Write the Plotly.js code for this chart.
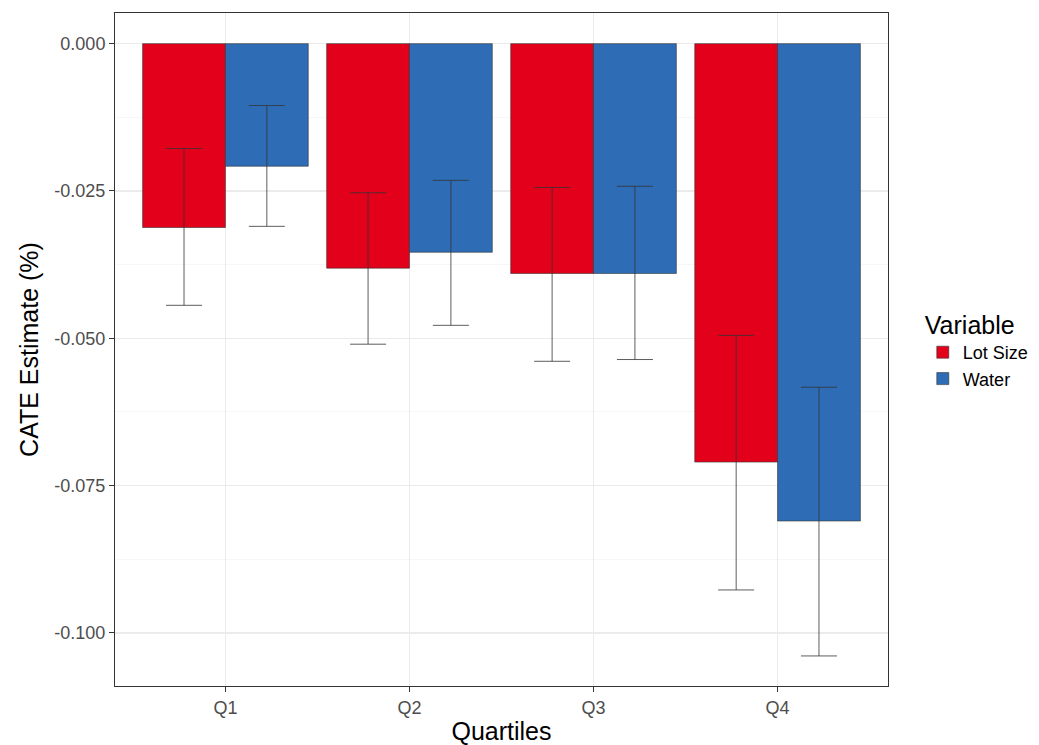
<!DOCTYPE html>
<html>
<head>
<meta charset="utf-8">
<script src="https://cdn.plot.ly/plotly-3.0.1.min.js"></script>
<style>html,body{margin:0;padding:0;background:#fff;}#chart{width:1039px;height:745px;}</style>
</head>
<body>
<div id="chart"></div>
<script>
const quartiles = ["Q1", "Q2", "Q3", "Q4"];
const lotSize = [-0.0312, -0.0381, -0.0390, -0.0710];
const lotSizeUpper = [-0.0178, -0.0253, -0.0244, -0.0495];
const lotSizeLower = [-0.0444, -0.0510, -0.0539, -0.0927];
const water = [-0.0208, -0.0354, -0.0390, -0.0810];
const waterUpper = [-0.0105, -0.0232, -0.0242, -0.0583];
const waterLower = [-0.0310, -0.0478, -0.0536, -0.1039];
const yTicks = [0, -0.025, -0.05, -0.075, -0.1];
const yTickLabels = ["0.000", "-0.025", "-0.050", "-0.075", "-0.100"];

function errTrace(name, vals, up, lo, color) {
  return {
    type: "bar", name: name, x: quartiles, y: vals,
    marker: {color: color, line: {color: "#333333", width: 0.6}},
    error_y: {
      type: "data", symmetric: false,
      array: up.map((u, i) => u - vals[i]),
      arrayminus: lo.map((l, i) => vals[i] - l),
      color: "#333333", thickness: 0.8, width: 18
    },
    hoverinfo: "x+y"
  };
}

const data = [
  errTrace("Lot Size", lotSize, lotSizeUpper, lotSizeLower, "#E3001B"),
  errTrace("Water", water, waterUpper, waterLower, "#2E6DB5")
];

const layout = {
  width: 1039, height: 745,
  margin: {l: 115, r: 151, t: 13, b: 59, autoexpand: false},
  paper_bgcolor: "#ffffff", plot_bgcolor: "#ffffff",
  barmode: "group", bargap: 0.1, bargroupgap: 0,
  font: {family: "Liberation Sans, Arial, sans-serif", color: "#000"},
  showlegend: true,
  legend: {
    x: 1.045, xanchor: "left", y: 0.50, yanchor: "middle",
    title: {text: "Variable", font: {size: 25, color: "#000"}},
    font: {size: 18, color: "#000"},
    tracegroupgap: 0, itemwidth: 30, traceorder: "normal"
  },
  xaxis: {
    type: "category", range: [-0.6, 3.6],
    title: {text: "Quartiles", font: {size: 25, color: "#000"}, standoff: 6},
    tickfont: {size: 18, color: "#4D4D4D"},
    ticks: "outside", ticklen: 5, tickcolor: "#333333", tickwidth: 1,
    showgrid: true, gridcolor: "#EBEBEB", gridwidth: 1.2,
    showline: true, linecolor: "#333333", linewidth: 1, mirror: true,
    zeroline: false
  },
  yaxis: {
    range: [-0.1090, 0.0052],
    tickvals: yTicks, ticktext: yTickLabels,
    title: {text: "CATE Estimate (%)", font: {size: 25, color: "#000"}, standoff: 8},
    tickfont: {size: 18, color: "#4D4D4D"},
    ticks: "outside", ticklen: 5, tickcolor: "#333333", tickwidth: 1,
    showgrid: true, gridcolor: "#EBEBEB", gridwidth: 1.2,
    minor: {tickvals: [-0.0125, -0.0375, -0.0625, -0.0875, -0.1125], showgrid: true, gridcolor: "#F2F2F2", gridwidth: 0.6, ticks: ""},
    showline: true, linecolor: "#333333", linewidth: 1, mirror: true,
    zeroline: false
  }
};

Plotly.newPlot("chart", data, layout, {displayModeBar: false, staticPlot: true});
</script>
</body>
</html>
